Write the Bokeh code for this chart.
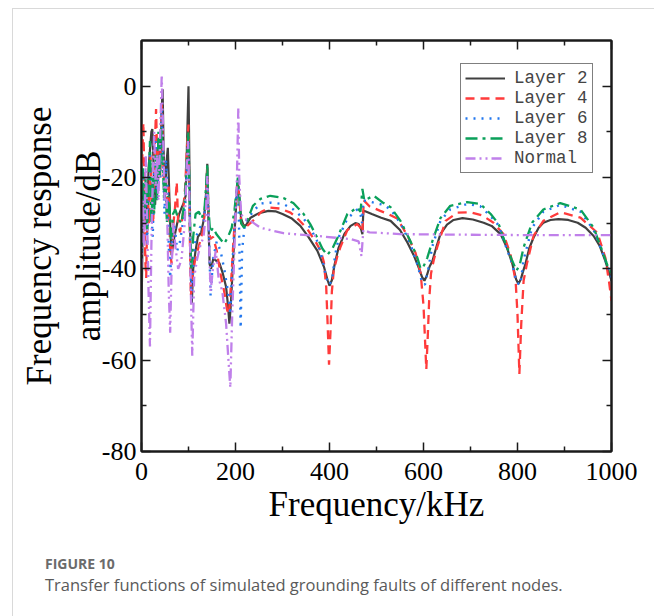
from bokeh.plotting import figure
from bokeh.layouts import column
from bokeh.models import (Range1d, LinearAxis, FixedTicker, Legend, LegendItem, Div)
from bokeh.embed import file_html
from bokeh.resources import INLINE

# ---------------- data ----------------
x_ticks = [0, 200, 400, 600, 800, 1000]
x_minor = [100, 300, 500, 700, 900]
x_tick_labels = ["0", "200", "400", "600", "800", "1000"]
y_ticks = [-80, -60, -40, -20, 0]
y_minor = [-70, -50, -30, -10]
y_tick_labels = ["-80", "-60", "-40", "-20", "0"]

series_names = ["Layer 2", "Layer 4", "Layer 6", "Layer 8", "Normal"]

layer2 = [(0, -50), (2, -35), (4, -22), (6, -30), (9, -25), (12, -32), (15, -18), (18, -14),
          (21, -10), (23, -9.4), (26, -18), (29, -26), (32, -17), (35, -22), (38, -12), (41, -15),
          (43, -5), (45, -0.7), (47, -14), (50, -24), (53, -17), (56, -13.5), (58, -20), (61, -30),
          (64, -37), (68, -34), (72, -32), (76, -30), (80, -28), (85, -26.7), (90, -25.5), (94, -24),
          (97, -12), (100, 0), (102, -18), (104, -35), (107, -47.5), (110, -40), (115, -36),
          (120, -33), (127, -32), (133, -29), (137, -24), (140, -17), (142, -28), (145, -39),
          (148, -40), (153, -37.7), (160, -38.3), (166, -38.8), (173, -41), (180, -44), (184, -48),
          (187, -52), (190, -48), (194, -40), (198, -32), (202, -25), (205, -21), (208, -24),
          (212, -29), (217, -30.5), (222, -30.5), (232, -28.8), (250, -27.8), (270, -27.3),
          (285, -27.4), (300, -28), (320, -29), (338, -30.6), (355, -33), (374, -36), (388, -39.5),
          (396, -42.5), (400, -43.7), (405, -42.5), (411, -39), (419, -35.5), (432, -32.3),
          (445, -30.6), (455, -30), (462, -30.2), (467, -31.2), (470, -32.4), (472, -27.3),
          (476, -27.4), (490, -28), (510, -28.8), (530, -29.5), (550, -31.5), (566, -34.3),
          (580, -37.2), (590, -39.8), (597, -41.8), (602, -42.6), (607, -41.5), (613, -39.5),
          (619, -38.3), (628, -35), (636, -32.4), (650, -30.3), (664, -29.3), (683, -28.9),
          (705, -29.2), (728, -29.9), (745, -30.6), (764, -32.4), (778, -35.5), (789, -38.9),
          (797, -42.3), (802, -43.3), (807, -42.3), (812, -40.5), (817, -38.9), (825, -35.5),
          (834, -33.2), (845, -31), (855, -29.9), (870, -29.3), (887, -29.1), (908, -29.3),
          (928, -29.9), (945, -31), (962, -32.8), (975, -35), (987, -38.3), (1000, -42.6)]

layer4 = [(0, -30), (2, -14), (4, -8), (6, -20), (8, -38), (10, -42), (13, -22), (16, -30),
          (19, -15), (22, -24), (25, -30), (28, -14), (31, -5), (34, -18), (37, -12), (40, -20),
          (43, -4), (46, -16), (49, -24), (52, -20), (55, -30), (58, -22), (61, -36), (64, -39),
          (67, -31), (71, -27), (75, -21), (78, -30), (82, -32), (88, -28), (93, -22), (97, -13),
          (100, -8.4), (102, -28), (105, -46), (108, -42), (114, -38), (122, -35), (130, -32),
          (136, -26), (140, -18), (143, -30), (146, -33.5), (152, -33), (160, -36), (168, -41),
          (176, -45), (182, -49), (186, -50), (190, -44), (195, -35), (200, -27), (204, -21),
          (207, -23), (212, -30), (220, -31), (237, -29.5), (255, -27.5), (274, -26.6),
          (295, -26.8), (317, -27.7), (335, -29.3), (353, -31.3), (370, -34), (381, -36),
          (388, -38.5), (393, -44), (396, -52), (399, -61), (402, -54), (405, -45), (409, -40.4),
          (416, -37.5), (423, -35.3), (438, -31.5), (459, -30.2), (466, -31), (470, -32),
          (473, -25), (485, -26.3), (508, -27.3), (525, -28), (544, -29), (556, -31), (568, -33.2),
          (583, -36.5), (594, -41), (600, -48), (603, -55), (606, -62), (609, -55), (612, -47),
          (616, -41), (622, -38), (629, -35.3), (647, -29.5), (672, -27.7), (700, -27.6),
          (725, -28.3), (749, -29.9), (770, -32.4), (785, -36.8), (796, -42.6), (800, -50),
          (804, -63), (808, -52), (813, -42.6), (820, -38.9), (834, -32.8), (855, -29.5),
          (891, -27.6), (934, -28.8), (970, -32.1), (987, -37.6), (995, -43), (1000, -47)]

layer6 = [(0, -38), (3, -20), (6, -30), (9, -25), (12, -35), (15, -22), (18, -15), (21, -28),
          (24, -33), (27, -18), (30, -12), (33, -25), (36, -15), (40, -20), (43, -5), (46, -18),
          (49, -28), (52, -16), (55, -22), (58, -35), (61, -42), (65, -33), (70, -30), (76, -36),
          (82, -34), (88, -30), (94, -25), (98, -15), (100, -12), (103, -30), (106, -47),
          (110, -38), (116, -33), (124, -31), (132, -30), (137, -25), (140, -20), (143, -30),
          (147, -46), (152, -38), (160, -34), (168, -36), (176, -40), (184, -45), (189, -50),
          (193, -40), (198, -30), (203, -22), (205, -20), (208, -33), (211, -53), (214, -36),
          (220, -30), (237, -27.5), (253, -25.7), (274, -25.5), (302, -25.8), (323, -27),
          (345, -29), (359, -31), (374, -34), (385, -38), (393, -42), (400, -43.5), (406, -42),
          (412, -37), (420, -33), (438, -29), (459, -27), (466, -28), (469, -30), (472, -25),
          (494, -25.5), (515, -26), (530, -27), (551, -30), (572, -34.5), (587, -39), (597, -43),
          (603, -43.5), (610, -40), (619, -35), (636, -29.5), (657, -27), (693, -25.8),
          (721, -26.3), (743, -28.5), (760, -30.5), (775, -35), (789, -39), (798, -43),
          (806, -43.5), (813, -38), (831, -31), (855, -27.5), (891, -26), (934, -27.5),
          (962, -31.5), (983, -37), (994, -40), (1000, -42)]

layer8 = [(0, -35), (3, -18), (6, -28), (9, -20), (12, -32), (15, -22), (18, -12), (21, -30),
          (24, -20), (27, -28), (30, -15), (33, -25), (36, -10), (39, -20), (42, -8), (45, -15),
          (48, -25), (51, -20), (54, -30), (57, -24), (60, -27), (63, -35), (67, -28), (72, -27),
          (78, -29), (85, -30), (92, -25), (97, -15), (100, -10), (103, -30), (106, -40),
          (110, -33), (115, -28), (122, -27.5), (128, -29), (134, -27), (138, -21), (140, -17),
          (142, -26), (146, -32), (152, -31), (160, -32.5), (168, -33.5), (176, -34.5),
          (184, -33), (192, -31), (198, -27), (203, -22), (205, -20), (208, -24), (212, -30),
          (218, -31), (225, -29.5), (237, -26.2), (253, -24.7), (274, -24), (302, -24.5),
          (323, -25.6), (345, -28), (359, -30.2), (374, -33.2), (385, -35.6), (395, -37),
          (406, -35.6), (417, -33.2), (438, -28), (459, -26.6), (466, -27.5), (470, -22.5),
          (474, -25), (494, -24), (515, -25.6), (530, -26.5), (551, -29.5), (572, -33.9),
          (587, -37.6), (594, -40), (600, -39.5), (608, -37.6), (619, -33.9), (636, -28.9),
          (657, -26.2), (693, -25.4), (721, -25.8), (743, -28), (760, -30.2), (770, -33.2),
          (789, -38.3), (798, -40.4), (805, -39), (813, -35.3), (831, -29.9), (855, -27),
          (891, -25.6), (934, -27), (962, -31), (983, -36.8), (994, -40), (1000, -41)]

normal = [(0, -40), (3, -25), (6, -35), (9, -15), (12, -30), (15, -45), (18, -57), (21, -35),
          (24, -20), (27, -10), (30, -22), (33, -15), (36, -25), (40, -10), (43, 2.5), (46, -10),
          (49, -25), (52, -20), (55, -30), (58, -45), (61, -54), (64, -40), (68, -30), (72, -35),
          (78, -40), (85, -38), (92, -30), (96, -18), (99, -12), (102, -25), (105, -45),
          (108, -59), (112, -42), (118, -38), (125, -35), (132, -33), (137, -28), (140, -19.7),
          (143, -32), (147, -45), (152, -40), (158, -36), (164, -42), (172, -45), (180, -52),
          (185, -60), (189, -66), (193, -50), (198, -35), (203, -20), (206, -4.7), (208, -20),
          (212, -28), (218, -29), (225, -29.3), (232, -29.5), (253, -31), (302, -32.2),
          (374, -32.8), (445, -33.5), (462, -34), (468, -37.2), (472, -31.5), (485, -32),
          (502, -32.1), (550, -32.4), (650, -32.5), (800, -32.6), (1000, -32.6)]

caption_label = "FIGURE 10"
caption_text = "Transfer functions of simulated grounding faults of different nodes."

# ---------------- figure ----------------
SERIF = "Liberation Serif"
p = figure(width=632, height=539, output_backend="svg", toolbar_location=None,
           x_range=Range1d(0, 1000), y_range=Range1d(-80, 10),
           min_border_left=128, min_border_right=34, min_border_top=31, min_border_bottom=97,
           background_fill_color="white", border_fill_color="white")
p.xgrid.visible = False
p.ygrid.visible = False
p.outline_line_color = "#1a1a1a"
p.outline_line_width = 2


def style_axis(ax, ticks, minor, labels, show_labels):
    ax.ticker = FixedTicker(ticks=ticks, minor_ticks=minor)
    ax.major_label_overrides = {t: l for t, l in zip(ticks, labels)}
    ax.axis_line_color = "#1a1a1a"
    ax.axis_line_width = 2
    ax.major_tick_line_color = "#1a1a1a"
    ax.minor_tick_line_color = "#1a1a1a"
    ax.major_tick_line_width = 1.5
    ax.minor_tick_line_width = 1.5
    ax.major_tick_in = 9
    ax.major_tick_out = 0
    ax.minor_tick_in = 5
    ax.minor_tick_out = 0
    ax.major_label_text_font = SERIF
    ax.major_label_text_font_size = "26px"
    ax.major_label_text_color = "black" if show_labels else None


xa = p.below[0]
ya = p.left[0]
style_axis(xa, x_ticks, x_minor, x_tick_labels, True)
style_axis(ya, y_ticks, y_minor, y_tick_labels, True)
xa.major_label_standoff = 11
ya.major_label_standoff = 5

top_ax = LinearAxis()
style_axis(top_ax, x_ticks, x_minor, x_tick_labels, False)
p.add_layout(top_ax, "above")
right_ax = LinearAxis()
style_axis(right_ax, y_ticks, y_minor, y_tick_labels, False)
p.add_layout(right_ax, "right")

xa.axis_label = "Frequency/kHz"
xa.axis_label_text_font = SERIF
xa.axis_label_text_font_size = "35px"
xa.axis_label_text_font_style = "normal"
xa.axis_label_text_color = "black"
xa.axis_label_standoff = 2

ya.axis_label = "Frequency response\namplitude/dB"
ya.axis_label_text_font = SERIF
ya.axis_label_text_font_size = "35px"
ya.axis_label_text_font_style = "normal"
ya.axis_label_text_color = "black"
ya.axis_label_text_line_height = 1.25
ya.axis_label_standoff = -9

styles = [
    dict(line_color="#404040", line_width=2.2, line_dash="solid"),
    dict(line_color="#ff3b3b", line_width=2.3, line_dash="9 6"),
    dict(line_color="#2277ee", line_width=2.4, line_dash="2 6"),
    dict(line_color="#0aa05a", line_width=2.3, line_dash="12 5 3 5"),
    dict(line_color="#c080ea", line_width=2.3, line_dash="10 4 2 4 2 4"),
]
items = []
for name, data, st in zip(series_names, [layer2, layer4, layer6, layer8, normal], styles):
    fx = [d[0] for d in data]
    fy = [d[1] for d in data]
    r = p.line(fx, fy, **st)
    items.append(LegendItem(label=name, renderers=[r]))

legend = Legend(items=items, location=(319, 278), orientation="vertical",
                label_text_font="Liberation Mono", label_text_font_size="17.5px",
                glyph_width=40, glyph_height=18, label_height=18, spacing=0, padding=4,
                label_standoff=9, margin=0, border_line_color="black", border_line_width=1,
                background_fill_color="white", background_fill_alpha=1)
p.add_layout(legend)

cap = Div(width=632, height=60,
          text=('<div style="padding:1px 0 0 27px;font-family:\'Open Sans\',sans-serif;'
                'white-space:nowrap;">'
                '<div style="font-weight:700;font-size:14px;line-height:20px;color:#6b6b6b;">'
                + caption_label + '</div>'
                '<div style="font-size:16.5px;line-height:22px;color:#5a5a5a;">'
                + caption_text + '</div></div>'))

page = column(p, cap, spacing=0, margin=(8, 0, 0, 12),
              styles={"border-top": "1px solid #d9d9d9", "border-left": "1px solid #d9d9d9",
                      "border-right": "1px solid #d9d9d9", "background": "white"})

open("out.html", "w").write(file_html(page, INLINE))
